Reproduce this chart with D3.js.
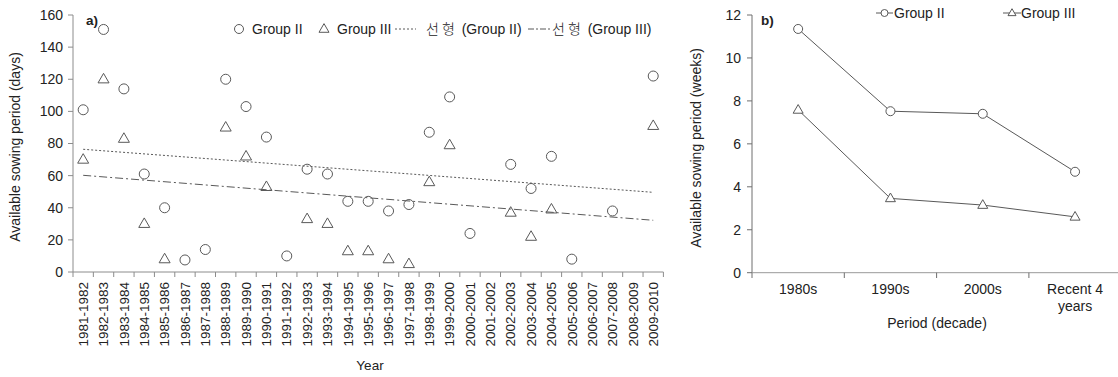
<!DOCTYPE html>
<html>
<head>
<meta charset="utf-8">
<script src="https://cdn.jsdelivr.net/npm/d3@7"></script>
<style>
  body { margin: 0; background: #fff; }
  svg text { font-family: "Liberation Sans", Arial, sans-serif; fill: #222; }
  .kr { font-family: "Liberation Sans", "Noto Sans CJK KR", sans-serif; }
</style>
</head>
<body>
<svg id="chart" width="1118" height="377"></svg>
<script>
// a) yearly values (days)
const periods = ["1981-1982","1982-1983","1983-1984","1984-1985","1985-1986","1986-1987","1987-1988",
  "1988-1989","1989-1990","1990-1991","1991-1992","1992-1993","1993-1994","1994-1995","1995-1996",
  "1996-1997","1997-1998","1998-1999","1999-2000","2000-2001","2001-2002","2002-2003","2003-2004",
  "2004-2005","2005-2006","2006-2007","2007-2008","2008-2009","2009-2010"];
const groupII = [101,151,114,61,40,7.5,14,120,103,84,10,64,61,44,44,38,42,87,109,24,null,67,52,72,8,null,38,null,122];
const groupIII = [70,120,83,30,8,null,null,90,72,53,null,33,30,13,13,8,5,56,79,null,null,37,22,39,null,null,null,null,91];
// linear trend lines, value at first and last period
const trendII = [76.4, 49.6];
const trendIII = [60.2, 32.2];
const daysTicks = [0,20,40,60,80,100,120,140,160];

// b) decade means (weeks)
const decades = ["1980s","1990s","2000s","Recent 4 years"];
const weeksII = [11.35,7.52,7.4,4.7];
const weeksIII = [7.58,3.46,3.15,2.6];
const weeksTicks = [0,2,4,6,8,10,12];

const svg = d3.select("#chart");
const stroke = "#595959";

function triangle(g, cx, cy, s, fill) {
  const h = s * 0.866;
  g.append("path")
    .attr("d", `M${cx},${cy - h * 0.62}L${cx + s / 2},${cy + h * 0.38}L${cx - s / 2},${cy + h * 0.38}Z`)
    .attr("fill", fill || "none").attr("stroke", stroke).attr("stroke-width", 1);
}

// ---------- chart a ----------
const ax = d3.scaleBand().domain(periods).range([73, 663.4]);
const ay = d3.scaleLinear().domain([0, 160]).range([272, 15]);
const a = svg.append("g");
const axisGrey = "#8c8c8c";

a.append("line").attr("x1", 73).attr("x2", 73).attr("y1", 15).attr("y2", 272)
  .attr("stroke", axisGrey);
a.append("line").attr("x1", 73).attr("x2", 663.4).attr("y1", 272).attr("y2", 272)
  .attr("stroke", axisGrey);

daysTicks.forEach(t => {
  a.append("line").attr("x1", 68).attr("x2", 73).attr("y1", ay(t)).attr("y2", ay(t)).attr("stroke", axisGrey);
  a.append("text").attr("x", 63).attr("y", ay(t)).attr("dy", "0.35em")
    .attr("text-anchor", "end").style("font-size", "14px").text(t);
});

periods.concat([null]).forEach(p => {
  const xx = p ? ax(p) : ax.range()[1];
  a.append("line").attr("x1", xx).attr("x2", xx).attr("y1", 272).attr("y2", 277).attr("stroke", axisGrey);
});
periods.forEach(p => {
  const cx = ax(p) + ax.bandwidth() / 2;
  a.append("text").attr("transform", `translate(${cx},282) rotate(-90)`)
    .attr("dy", "0.35em").attr("text-anchor", "end").style("font-size", "13.5px").text(p);
});

a.append("text").attr("x", 370).attr("y", 370).attr("text-anchor", "middle")
  .style("font-size", "13.5px").text("Year");
a.append("text").attr("transform", "translate(20,147) rotate(-90)")
  .attr("text-anchor", "middle").style("font-size", "14px").text("Available sowing period (days)");
a.append("text").attr("x", 86).attr("y", 25).style("font-size", "13.5px").style("font-weight", "bold").text("a)");

// trend lines
const cx0 = ax(periods[0]) + ax.bandwidth() / 2;
const cx1 = ax(periods[periods.length - 1]) + ax.bandwidth() / 2;
a.append("line").attr("x1", cx0).attr("x2", cx1).attr("y1", ay(trendII[0])).attr("y2", ay(trendII[1]))
  .attr("stroke", stroke).attr("stroke-dasharray", "2,2");
a.append("line").attr("x1", cx0).attr("x2", cx1).attr("y1", ay(trendIII[0])).attr("y2", ay(trendIII[1]))
  .attr("stroke", stroke).attr("stroke-dasharray", "8,3,2,3");

periods.forEach((p, i) => {
  const cx = ax(p) + ax.bandwidth() / 2;
  if (groupII[i] != null)
    a.append("circle").attr("cx", cx).attr("cy", ay(groupII[i])).attr("r", 5)
      .attr("fill", "none").attr("stroke", stroke);
  if (groupIII[i] != null) triangle(a, cx, ay(groupIII[i]), 11);
});

// legend a
const ly = 29;
a.append("circle").attr("cx", 239).attr("cy", ly).attr("r", 4.5).attr("fill", "none").attr("stroke", stroke);
a.append("text").attr("x", 252).attr("y", ly).attr("dy", "0.35em").style("font-size", "14px").text("Group II");
triangle(a, 324, ly, 10);
a.append("text").attr("x", 337).attr("y", ly).attr("dy", "0.35em").style("font-size", "14px").text("Group III");

function trendLegend(x0, x1, dash, tx, label) {
  a.append("line").attr("x1", x0).attr("x2", x1).attr("y1", ly).attr("y2", ly)
    .attr("stroke", stroke).attr("stroke-dasharray", dash);
  const t = a.append("text").attr("class", "kr").attr("x", tx).attr("y", ly).attr("dy", "0.35em")
    .style("font-size", "14px");
  t.append("tspan").style("letter-spacing", "3px").style("font-weight", "300").text("선형");
  t.append("tspan").text(" " + label);
}
trendLegend(395, 416, "2,2", 426, "(Group II)");
trendLegend(528, 550, "6,2,2,2", 552, "(Group III)");

// ---------- chart b ----------
const bx = d3.scaleBand().domain(decades).range([752, 1121.2]);
const by = d3.scaleLinear().domain([0, 12]).range([272.7, 15]);
const b = svg.append("g");
const axisDark = "#6e6e6e";

b.append("line").attr("x1", 752).attr("x2", 752).attr("y1", 15).attr("y2", 272.7).attr("stroke", axisDark);
b.append("line").attr("x1", 752).attr("x2", 1121).attr("y1", 272.7).attr("y2", 272.7).attr("stroke", "#999");

weeksTicks.forEach(t => {
  b.append("line").attr("x1", 747).attr("x2", 752).attr("y1", by(t)).attr("y2", by(t)).attr("stroke", axisDark);
  b.append("text").attr("x", 741).attr("y", by(t)).attr("dy", "0.35em")
    .attr("text-anchor", "end").style("font-size", "14px").text(t);
});
decades.forEach(d => {
  b.append("line").attr("x1", bx(d)).attr("x2", bx(d)).attr("y1", 272.7).attr("y2", 278).attr("stroke", axisDark);
  const t = b.append("text").attr("x", bx(d) + bx.bandwidth() / 2).attr("y", 294)
    .attr("text-anchor", "middle").style("font-size", "14px");
  if (d === "Recent 4 years") {
    t.append("tspan").attr("x", bx(d) + bx.bandwidth() / 2).text("Recent 4");
    t.append("tspan").attr("x", bx(d) + bx.bandwidth() / 2).attr("dy", 17).text("years");
  } else t.text(d);
});

b.append("text").attr("x", 937).attr("y", 328).attr("text-anchor", "middle")
  .style("font-size", "14px").text("Period (decade)");
b.append("text").attr("transform", "translate(701,148) rotate(-90)")
  .attr("text-anchor", "middle").style("font-size", "14px").text("Available sowing period (weeks)");
b.append("text").attr("x", 761).attr("y", 25).style("font-size", "13.5px").style("font-weight", "bold").text("b)");

const bcx = d => bx(d) + bx.bandwidth() / 2;
const line = vals => d3.line().x((v, i) => bcx(decades[i])).y(v => by(v))(vals);
b.append("path").attr("d", line(weeksII)).attr("fill", "none").attr("stroke", stroke);
b.append("path").attr("d", line(weeksIII)).attr("fill", "none").attr("stroke", stroke);
decades.forEach((d, i) => {
  b.append("circle").attr("cx", bcx(d)).attr("cy", by(weeksII[i])).attr("r", 4.5)
    .attr("fill", "#fff").attr("stroke", stroke);
  triangle(b, bcx(d), by(weeksIII[i]), 10, "#fff");
});

// legend b
const lby = 13;
b.append("line").attr("x1", 876).attr("x2", 893).attr("y1", lby).attr("y2", lby).attr("stroke", stroke);
b.append("circle").attr("cx", 884.5).attr("cy", lby).attr("r", 3.5).attr("fill", "#fff").attr("stroke", stroke);
b.append("text").attr("x", 894).attr("y", lby).attr("dy", "0.35em").style("font-size", "14px").text("Group II");
b.append("line").attr("x1", 1003).attr("x2", 1021).attr("y1", lby).attr("y2", lby).attr("stroke", stroke);
triangle(b, 1012, lby, 8, "#fff");
b.append("text").attr("x", 1021).attr("y", lby).attr("dy", "0.35em").style("font-size", "14px").text("Group III");
</script>
</body>
</html>
